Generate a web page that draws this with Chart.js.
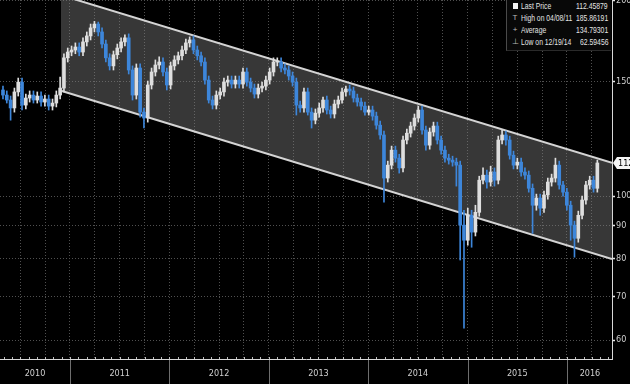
<!DOCTYPE html>
<html>
<head>
<meta charset="utf-8">
<script src="https://cdn.jsdelivr.net/npm/chart.js@4.4.1/dist/chart.umd.min.js"></script>
<style>
  html, body { margin: 0; padding: 0; background: #000; }
  #quadro { position: relative; width: 630px; height: 384px; overflow: hidden; background: #000; }
  #legenda {
    position: absolute; left: 506px; top: 0; width: 104px; height: 50px;
    background: #080808; border-left: 1px solid #4a4a4a; border-bottom: 1px solid #2a2a2a;
    font-family: 'Liberation Sans', Arial, sans-serif;
    font-size: 8.5px; color: #e4e4e4;
  }
  .linha { position: relative; height: 12px; line-height: 12px; }
  .ic { position: absolute; left: 5px; top: 0; width: 6px; text-align: center; color: #bbb; font-size: 8px; }
  .ic.quadrado { left: 6px; top: 3px; width: 5px; height: 6px; background: #f4f4f4; }
  .nome { position: absolute; left: 14px; white-space: nowrap; transform: scaleX(0.8); transform-origin: left center; }
  .val { position: absolute; right: 3px; white-space: nowrap; transform: scaleX(0.8); transform-origin: right center; }
</style>
</head>
<body>
<div id="quadro">
  <canvas id="grafico" width="630" height="384"></canvas>
  <div id="legenda"></div>
</div>
<script>
// barras de duas semanas, de 28/04/2010 ate 04/2016
const primeiraBarra = 2010.326;
const passoBarra = 14 / 365.25;
const aberturaInicial = 145.7;

const fechamentos = [
  143.1, 140.6, 136.7, 144.7, 149.8, 138.1, 141.6, 143.1, 140.6, 142.6,
  139.6, 141.1, 137.6, 139.1, 143.1, 146.7, 163.3, 166.7, 167.9, 169.7,
  166.7, 172.8, 176.5, 181.6, 184.1, 179.0, 171.5, 163.3, 158.7, 165.1,
  169.1, 172.8, 175.3, 156.4, 143.1, 157.5, 134.7, 131.9, 148.3, 155.3,
  159.2, 160.9, 155.3, 148.3, 158.7, 162.1, 164.5, 167.9, 172.2, 174.0,
  167.9, 164.5, 160.9, 150.9, 140.6, 138.1, 143.1, 144.7, 149.8, 150.9,
  148.8, 150.9, 148.8, 155.3, 149.8, 146.7, 143.6, 146.7, 147.7, 150.9,
  155.3, 160.9, 160.9, 157.5, 156.4, 153.1, 149.8, 138.1, 136.7, 144.7,
  134.7, 130.9, 134.2, 136.7, 140.6, 135.7, 133.8, 138.6, 140.6, 144.7,
  146.2, 145.2, 141.6, 139.6, 137.6, 134.7, 135.7, 132.8, 128.6, 124.2,
  106.6, 111.6, 117.7, 114.4, 110.5, 122.0, 125.0, 128.2, 131.9, 135.7,
  126.4, 119.8, 125.5, 128.2, 122.0, 117.7, 114.4, 113.6, 112.8, 111.6,
  90.2, 85.5, 93.4, 88.0, 94.4, 105.8, 107.7, 105.1, 108.9, 105.8,
  122.0, 124.2, 122.0, 115.6, 111.6, 112.8, 108.9, 107.7, 102.8, 96.8,
  99.3, 95.8, 100.4, 105.1, 106.6, 111.6, 104.0, 101.4, 96.8, 90.2,
  86.1, 93.4, 98.6, 104.0, 105.8, 102.8, 112.46
];

const maximas = [
  147.7, 145.2, 142.6, 146.7, 152.0, 152.0, 143.6, 145.2, 145.2, 144.7,
  144.7, 143.1, 143.1, 141.1, 145.2, 152.5, 165.7, 169.1, 170.3, 172.2,
  172.2, 175.3, 179.0, 184.1, 185.86, 185.4, 181.6, 174.0, 165.7, 167.3,
  171.5, 175.3, 177.2, 177.8, 158.7, 159.8, 159.8, 136.7, 150.4, 157.5,
  162.1, 163.9, 163.3, 157.5, 160.9, 164.5, 166.7, 170.3, 174.6, 175.9,
  176.5, 170.3, 166.7, 163.3, 153.1, 142.6, 145.2, 146.7, 152.0, 153.1,
  153.1, 153.1, 153.1, 157.5, 157.5, 152.0, 148.8, 148.8, 149.8, 153.1,
  157.5, 163.3, 163.3, 163.3, 159.8, 158.7, 155.3, 152.0, 140.1, 146.7,
  146.7, 136.7, 136.2, 139.1, 142.1, 142.6, 137.6, 140.6, 142.6, 146.7,
  147.7, 148.3, 147.2, 143.6, 141.6, 139.6, 137.6, 137.6, 134.7, 130.5,
  125.9, 113.2, 119.4, 119.4, 116.0, 123.7, 126.8, 130.0, 133.8, 137.6,
  137.6, 128.2, 127.3, 130.0, 130.0, 123.7, 119.4, 116.0, 115.2, 114.4,
  113.2, 95.1, 95.8, 95.1, 96.8, 107.3, 110.5, 109.7, 111.2, 110.5,
  123.7, 126.4, 125.9, 123.7, 117.3, 114.4, 114.4, 110.5, 109.3, 104.4,
  100.7, 100.7, 101.8, 106.6, 108.1, 114.4, 113.2, 105.4, 102.8, 98.2,
  91.5, 94.8, 100.0, 105.4, 107.3, 107.3, 113.6
];

const minimas = [
  141.1, 139.1, 130.9, 134.7, 142.6, 135.7, 136.2, 139.6, 139.1, 139.1,
  137.6, 137.6, 135.7, 135.7, 137.2, 141.1, 144.7, 160.9, 164.5, 165.7,
  164.5, 164.5, 170.3, 174.0, 179.0, 176.5, 169.1, 160.9, 156.4, 156.4,
  162.7, 166.7, 170.3, 154.2, 140.6, 141.1, 132.3, 127.3, 130.0, 146.2,
  153.1, 157.0, 153.1, 145.7, 146.2, 156.4, 159.8, 162.1, 165.7, 169.7,
  165.7, 162.1, 158.7, 148.8, 139.1, 136.2, 136.2, 141.1, 142.6, 147.7,
  146.7, 146.7, 146.7, 146.7, 147.7, 144.7, 141.6, 141.6, 144.7, 145.7,
  148.8, 153.1, 158.7, 155.3, 154.2, 150.9, 147.7, 133.3, 134.7, 134.7,
  133.3, 127.3, 129.2, 132.3, 134.7, 133.8, 131.9, 131.9, 136.7, 139.1,
  142.6, 143.1, 139.6, 137.6, 135.7, 133.3, 133.3, 130.9, 126.8, 122.4,
  97.9, 105.1, 110.1, 112.8, 108.5, 108.9, 120.3, 123.3, 126.4, 130.0,
  124.6, 117.7, 118.1, 123.7, 120.3, 116.0, 112.8, 112.0, 111.2, 103.6,
  79.7, 62.59, 84.0, 83.4, 86.8, 93.1, 104.4, 102.8, 103.6, 103.6,
  104.4, 120.3, 119.8, 114.0, 110.1, 110.1, 107.3, 106.2, 101.4, 87.6,
  95.1, 93.4, 94.4, 98.9, 103.6, 105.1, 102.5, 100.0, 95.1, 85.5,
  80.5, 84.9, 92.2, 97.2, 102.5, 101.4, 101.4
];

// canal de tendencia (inicio e fim)
const canalDatas = [2010.909, 2016.453];
const canalTopo = [204.0, 112.5];
const canalBase = [145.3, 80.0];

const marcasY = [60, 70, 80, 90, 100, 150, 200];
const anos = [2010, 2011, 2012, 2013, 2014, 2015, 2016];
const posRotuloAno = [2010.648, 2011.5, 2012.5, 2013.5, 2014.5, 2015.5, 2016.231];
const eixoInicio = 2010.296;
const eixoFim = 2016.453;
const yMin = 56.1;
const yMax = 200.5;

const ultimoPreco = 112.45879;
const legendaNomes = ["Last Price", "High on 04/08/11", "Average", "Low on 12/19/14"];
const legendaValores = ["112.45879", "185.86191", "134.79301", "62.59456"];
const legendaIcones = ["", "T", "+", "\u22A5"];

const fonte = "'Liberation Sans Narrow', 'Arial Narrow', 'DejaVu Sans Condensed', sans-serif";
const azul = "#3d86da";
const branco = "#dedede";

montarLegenda();
function montarLegenda() {
  const legenda = document.getElementById("legenda");
  let html = "";
  for (let i = 0; i < legendaNomes.length; i++) {
    const icone = i == 0 ? '<span class="ic quadrado"></span>' : `<span class="ic">${legendaIcones[i]}</span>`;
    html += `<div class="linha">${icone}<span class="nome">${legendaNomes[i]}</span><span class="val">${legendaValores[i]}</span></div>`;
  }
  legenda.innerHTML = html;
}

const corpos = [];
const pavios = [];
const cores = [];
for (let i = 0; i < fechamentos.length; i++) {
  const x = primeiraBarra + i * passoBarra;
  const abertura = i == 0 ? aberturaInicial : fechamentos[i - 1];
  corpos.push({ x: x, y: [abertura, fechamentos[i]] });
  pavios.push({ x: x, y: [minimas[i], maximas[i]] });
  cores.push(fechamentos[i] >= abertura ? branco : azul);
}

function ehTrimestre(v) {
  return Math.abs(v * 4 - Math.round(v * 4)) < 1e-6;
}

const marcasX = [];
for (let t = 2010.5; t <= eixoFim; t += 0.25) marcasX.push(t);
posRotuloAno.forEach((p) => { if (!ehTrimestre(p)) marcasX.push(p); });
marcasX.sort((a, b) => a - b);

function rotuloX(v) {
  for (let i = 0; i < posRotuloAno.length; i++) {
    if (Math.abs(posRotuloAno[i] - v) < 1e-6) return String(anos[i]);
  }
  return "";
}

const extrasEixo = {
  id: "extrasEixo",
  afterDraw(chart) {
    const c = chart.ctx;
    const sx = chart.scales.x;
    const sy = chart.scales.y;
    const base = chart.chartArea.bottom;
    c.save();
    // riscos mensais no eixo
    c.strokeStyle = "#bdbdbd";
    c.lineWidth = 1;
    for (let a = 2010; a <= 2016; a++) {
      for (let m = 0; m < 12; m++) {
        const t = a + m / 12;
        if (t < sx.min || t > sx.max) continue;
        const px = Math.round(sx.getPixelForValue(t)) + 0.5;
        c.beginPath();
        c.moveTo(px, base);
        c.lineTo(px, base - 2);
        c.stroke();
      }
    }
    // separadores de ano abaixo do eixo
    c.strokeStyle = "#6e6e6e";
    for (let a = 2011; a <= 2016; a++) {
      const px = Math.round(sx.getPixelForValue(a)) + 0.5;
      c.beginPath();
      c.moveTo(px, base + 1);
      c.lineTo(px, chart.height);
      c.stroke();
    }
    // etiqueta do ultimo preco
    const y = sy.getPixelForValue(ultimoPreco);
    const x0 = chart.chartArea.right + 1;
    c.fillStyle = "#f4f4f4";
    c.beginPath();
    c.moveTo(x0, y);
    c.lineTo(x0 + 4, y - 6);
    c.lineTo(chart.width + 10, y - 6);
    c.lineTo(chart.width + 10, y + 6);
    c.lineTo(x0 + 4, y + 6);
    c.closePath();
    c.fill();
    c.fillStyle = "#000";
    c.font = "9px " + fonte;
    c.textBaseline = "middle";
    c.fillText(ultimoPreco.toFixed(2), x0 + 5, y + 0.5);
    c.restore();
  },
};

const config = {
  type: "bar",
  data: {
    datasets: [
      {
        type: "line",
        label: "Topo",
        data: [
          { x: canalDatas[0], y: canalTopo[0] },
          { x: canalDatas[1], y: canalTopo[1] },
        ],
        borderColor: "#d4d4d4",
        borderWidth: 2,
        pointRadius: 0,
        fill: false,
        order: 3,
      },
      {
        type: "line",
        label: "Base",
        data: [
          { x: canalDatas[0], y: canalBase[0] },
          { x: canalDatas[1], y: canalBase[1] },
        ],
        borderColor: "#d4d4d4",
        borderWidth: 2,
        pointRadius: 0,
        fill: "-1",
        backgroundColor: "rgba(130,130,130,0.42)",
        order: 3,
      },
      {
        label: "Pavio",
        data: pavios,
        backgroundColor: cores,
        barThickness: 1,
        grouped: false,
        order: 2,
      },
      {
        label: "Corpo",
        data: corpos,
        backgroundColor: cores,
        barThickness: 3,
        minBarLength: 1,
        grouped: false,
        order: 1,
      },
    ],
  },
  options: {
    responsive: false,
    devicePixelRatio: 1,
    animation: false,
    layout: { padding: 0 },
    plugins: {
      legend: { display: false },
      tooltip: { enabled: false },
    },
    scales: {
      x: {
        type: "linear",
        offset: false,
        min: eixoInicio,
        max: eixoFim,
        bounds: "data",
        afterBuildTicks: (s) => {
          s.ticks = marcasX.map((v) => ({ value: v }));
        },
        afterFit: (s) => {
          s.height = 25;
          s.paddingLeft = 0;
          s.paddingRight = 0;
        },
        grid: {
          offset: false,
          color: (c) => (c.tick && ehTrimestre(c.tick.value) ? "#505050" : "transparent"),
          drawTicks: false,
        },
        border: { color: "#d8d8d8", width: 1, dash: [1, 2] },
        ticks: {
          autoSkip: false,
          maxRotation: 0,
          padding: 9,
          color: "#cfcfcf",
          font: { size: 9, family: fonte },
          callback: (v) => rotuloX(v),
        },
      },
      y: {
        type: "logarithmic",
        position: "right",
        min: yMin,
        max: yMax,
        bounds: "data",
        afterBuildTicks: (s) => {
          s.ticks = marcasY.map((v) => ({ value: v }));
        },
        afterFit: (s) => {
          s.width = 18;
          s.paddingTop = 0;
          s.paddingBottom = 0;
        },
        grid: {
          color: "#505050",
          tickColor: "#e6e6e6",
          tickLength: 3,
          tickWidth: 1.5,
        },
        border: { color: "#d8d8d8", width: 1, dash: [1, 2] },
        ticks: {
          padding: 1,
          color: "#cfcfcf",
          font: { size: 9, family: fonte },
          callback: (v) => String(v),
        },
      },
    },
  },
  plugins: [extrasEixo],
};

const meuGrafico = new Chart(document.getElementById("grafico"), config);
</script>
</body>
</html>
